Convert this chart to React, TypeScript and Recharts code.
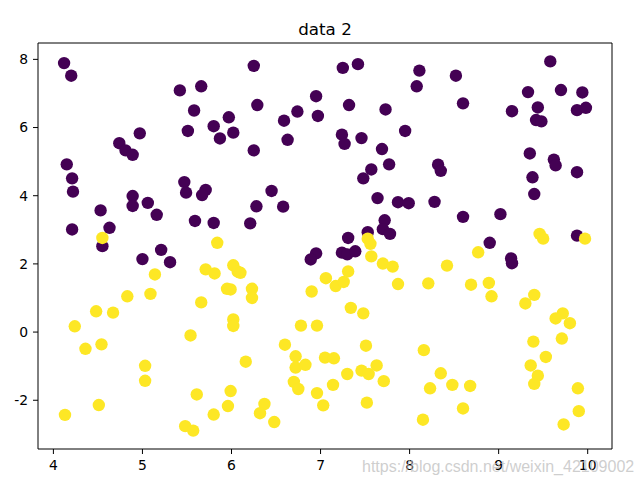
import React from 'react';
import { ScatterChart, Scatter, XAxis, YAxis, ReferenceLine } from 'recharts';

// class 0 points (dark purple)
const class0X = [
  4.12, 4.2, 5.42, 5.66, 5.58, 4.97, 4.74, 4.81, 4.89, 5.51, 5.8, 5.97, 5.87, 6.02, 4.15, 4.21, 5.47,
  6.25, 7.25, 7.42, 8.11, 8.08, 6.95, 6.29, 7.32, 6.74, 6.97, 6.59, 7.73, 6.63, 7.24, 7.27, 7.46, 7.95,
  6.25, 7.69, 7.77, 7.57, 7.48, 9.58, 8.52, 8.6, 9.33, 9.7, 9.94, 9.44, 9.15, 9.88, 9.98, 9.42, 9.48,
  9.35, 9.62, 9.64, 8.32, 8.35, 9.88, 9.38, 4.22, 5.49, 5.71, 5.67, 4.89, 4.89, 5.06, 4.53, 5.16, 5.59,
  5.8, 4.21, 4.63, 4.55, 5.21, 5.0, 5.31, 6.45, 6.28, 6.58, 6.21, 7.64, 7.87, 7.99, 7.72, 7.7, 7.78,
  7.53, 7.31, 6.95, 6.89, 7.24, 7.3, 7.39, 9.4, 8.28, 8.6, 9.02, 8.9, 9.14, 9.15, 9.88,
];
const class0Y = [
  7.89, 7.52, 7.09, 7.21, 6.5, 5.83, 5.54, 5.33, 5.2, 5.9, 6.04, 6.3, 5.68, 5.85, 4.92, 4.51, 4.4,
  7.81, 7.75, 7.86, 7.67, 7.21, 6.92, 6.66, 6.66, 6.47, 6.34, 6.2, 6.53, 5.64, 5.79, 5.52, 5.69, 5.9,
  5.33, 5.37, 4.92, 4.77, 4.51, 7.94, 7.52, 6.71, 7.04, 7.1, 7.03, 6.59, 6.48, 6.51, 6.58, 6.22, 6.18,
  5.24, 5.06, 4.89, 4.91, 4.73, 4.69, 4.54, 4.12, 4.09, 4.17, 4.02, 3.99, 3.7, 3.79, 3.57, 3.44, 3.26,
  3.2, 3.01, 3.06, 2.52, 2.41, 2.14, 2.05, 4.14, 3.69, 3.68, 3.19, 3.93, 3.81, 3.78, 3.28, 3.02, 2.88,
  2.93, 2.76, 2.31, 2.13, 2.33, 2.28, 2.37, 4.05, 3.82, 3.38, 3.46, 2.62, 2.16, 2.02, 2.83,
];

// class 1 points (yellow)
const class1X = [
  4.55, 5.84, 5.14, 5.71, 5.81, 6.02, 5.95, 5.99, 4.83, 5.09, 5.66, 4.48, 4.67, 7.53, 7.56, 7.57, 7.7,
  7.81, 7.87, 6.07, 6.1, 6.23, 6.23, 7.31, 7.06, 7.17, 7.26, 6.9, 7.34, 7.48, 9.46, 9.5, 9.97, 8.77,
  8.42, 8.21, 8.69, 8.89, 8.92, 9.4, 9.3, 9.72, 9.64, 4.24, 4.36, 4.54, 5.03, 5.03, 5.54, 6.02, 6.02,
  5.61, 5.99, 5.96, 5.8, 4.51, 4.13, 5.48, 5.57, 6.78, 6.96, 6.6, 7.51, 8.16, 6.16, 6.72, 7.05, 7.15,
  6.72, 6.83, 7.3, 7.46, 7.54, 7.63, 7.71, 6.7, 6.75, 7.14, 6.96, 6.37, 6.32, 6.48, 7.03, 7.52, 8.15,
  9.8, 9.71, 9.39, 9.53, 9.36, 9.44, 9.4, 8.35, 8.23, 8.48, 8.68, 8.6, 9.89, 9.9, 9.73,
];
const class1Y = [
  2.76, 2.62, 1.69, 1.84, 1.72, 1.96, 1.27, 1.25, 1.05, 1.12, 0.87, 0.61, 0.57, 2.74, 2.59, 2.22, 2.01,
  1.92, 1.41, 1.77, 1.74, 1.27, 1.0, 1.78, 1.58, 1.35, 1.47, 1.19, 0.71, 0.55, 2.88, 2.74, 2.74, 2.34,
  1.95, 1.43, 1.39, 1.44, 1.05, 1.09, 0.84, 0.55, 0.4, 0.17, -0.49, -0.36, -0.99, -1.43, -0.1, 0.37, 0.18,
  -1.83, -1.73, -2.17, -2.42, -2.14, -2.43, -2.76, -2.89, 0.19, 0.19, -0.37, -0.4, -0.53, -0.87, -0.71, -0.75, -0.77,
  -1.04, -0.96, -1.23, -1.13, -1.23, -0.98, -1.44, -1.46, -1.67, -1.55, -1.79, -2.11, -2.38, -2.64, -2.15, -2.07, -2.57,
  0.26, -0.19, -0.28, -0.73, -0.98, -1.28, -1.52, -1.21, -1.65, -1.55, -1.58, -2.24, -1.65, -2.32, -2.71,
];

const xTicks = [4, 5, 6, 7, 8, 9, 10];
const yTicks = [-2, 0, 2, 4, 6, 8];
const xDomain: [number, number] = [3.827, 10.273];
const yDomain: [number, number] = [-3.43, 8.48];

const class0 = class0X.map((x, i) => ({ x, y: class0Y[i] }));
const class1 = class1X.map((x, i) => ({ x, y: class1Y[i] }));

const font = '"DejaVu Sans", sans-serif';
const tickStyle = { fontSize: 13.9, fill: '#000', fontFamily: font };

const dot = (color: string) => (props: any) => (
  <circle cx={props.cx} cy={props.cy} r={6.2} fill={color} />
);

export default function App() {
  return (
    <div style={{ position: 'absolute', left: 0, top: 0, width: 643, height: 485, background: '#fff' }}>
      <div
        style={{
          position: 'absolute',
          left: 38,
          width: 574,
          top: 21,
          textAlign: 'center',
          fontFamily: font,
          fontSize: 16.7,
          lineHeight: 1,
          color: '#000',
        }}
      >
        data 2
      </div>
      <ScatterChart width={643} height={485} margin={{ top: 43, right: 31, bottom: 0, left: 0 }}>
        <XAxis
          type="number"
          dataKey="x"
          domain={xDomain}
          ticks={xTicks}
          allowDataOverflow
          height={36}
          tickSize={5}
          tickMargin={6}
          stroke="#000"
          tick={tickStyle}
        />
        <YAxis
          type="number"
          dataKey="y"
          domain={yDomain}
          ticks={yTicks}
          allowDataOverflow
          width={38}
          tickSize={5}
          tickMargin={5}
          stroke="#000"
          tick={tickStyle}
        />
        {/* top and right spines */}
        <ReferenceLine y={yDomain[1]} stroke="#000" ifOverflow="visible" />
        <ReferenceLine x={xDomain[1]} stroke="#000" ifOverflow="visible" />
        <Scatter data={class0} fill="#440154" shape={dot('#440154')} isAnimationActive={false} />
        <Scatter data={class1} fill="#fde725" shape={dot('#fde725')} isAnimationActive={false} />
      </ScatterChart>
      <div
        style={{
          position: 'absolute',
          left: 362,
          top: 459,
          fontFamily: '"Liberation Sans", Arial, sans-serif',
          fontSize: 16,
          lineHeight: 1,
          color: 'rgba(190,190,190,0.75)',
          whiteSpace: 'nowrap',
        }}
      >
        https://blog.csdn.net/weixin_42109002
      </div>
    </div>
  );
}
